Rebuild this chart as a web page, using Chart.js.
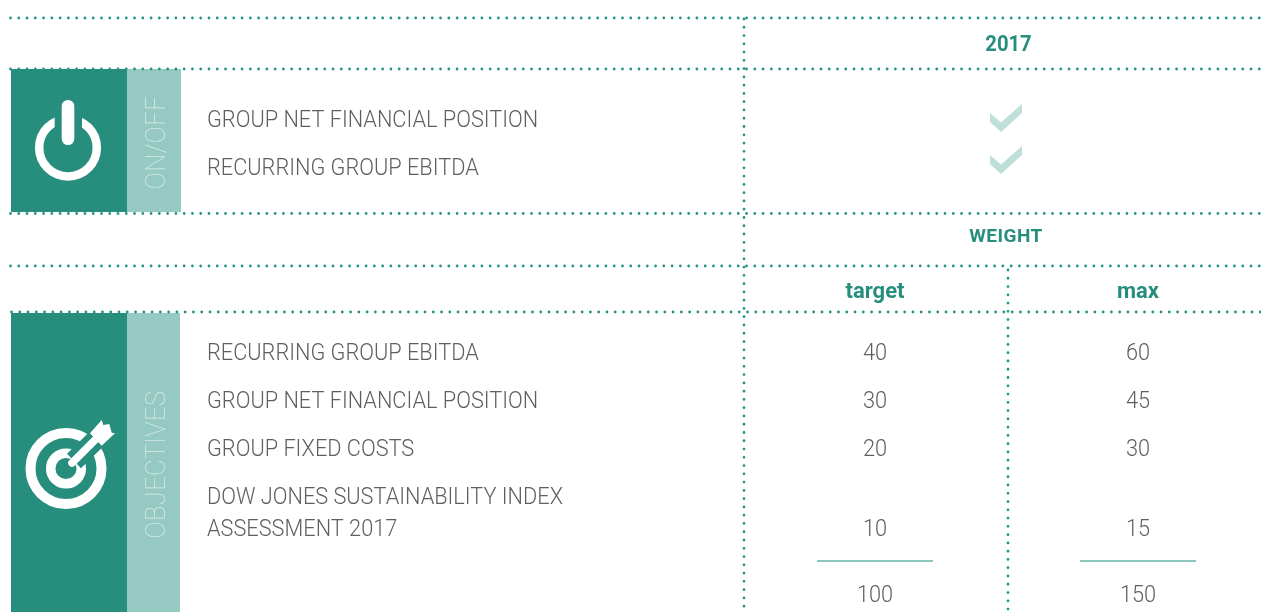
<!DOCTYPE html>
<html>
<head>
<meta charset="utf-8">
<title>Objectives 2017</title>
<script src="https://cdn.jsdelivr.net/npm/chart.js"></script>
<style>
  html, body { margin: 0; padding: 0; background: #fff; overflow: hidden; }
  canvas { display: block; }
</style>
</head>
<body>
<canvas id="chart" width="1261" height="612"></canvas>
<script>
// Table contents
const yearLabel = ['2017'];
const weightLabel = ['WEIGHT'];
const weightColumns = ['target', 'max'];
const sectionNames = ['ON/OFF', 'OBJECTIVES'];
const onOffItems = ['GROUP NET FINANCIAL POSITION', 'RECURRING GROUP EBITDA'];
const onOffChecks = [true, true];
const objectiveItems = ['RECURRING GROUP EBITDA', 'GROUP NET FINANCIAL POSITION', 'GROUP FIXED COSTS', 'DOW JONES SUSTAINABILITY INDEX'];
const objectiveItemsExtra = ['ASSESSMENT 2017'];
const targetWeights = [40, 30, 20, 10];
const maxWeights = [60, 45, 30, 15];
const weightTotals = [100, 150];

// Colors
const TEAL = '#278e7e';
const TEAL_DOT = '#259484';
const TEAL_LIGHT = '#96c9c2';
const TEAL_RULE = '#8cc7bd';
const CHECK = '#bfdfd9';
const GREY = '#5f5f5f';
const PALE = '#d9ece9';

// Layout, in canvas units (the axes run 0-1261 and 0-612)
const COL_LABEL = 207, COL_YEAR = 1006, COL_TARGET = 875, COL_MAX = 1138;
const ONOFF_ROWS = [121, 169];
const CHECK_ROWS = [118, 160];
const OBJECTIVE_ROWS = [354, 402, 450, 530];
const LABEL_ROWS = [354, 402, 450, 498];
const EXTRA_ROW = 530, TOTAL_ROW = 596, RULE_ROW = 561;
const H_LINES = [18, 69, 213.5, 266, 312];
const PANELS = [
  { x: 11, x2: 127, y: 69, y2: 212, color: TEAL },
  { x: 127, x2: 181, y: 69, y2: 212, color: TEAL_LIGHT },
  { x: 11, x2: 127, y: 313, y2: 612, color: TEAL },
  { x: 127, x2: 180, y: 313, y2: 612, color: TEAL_LIGHT }
];

const BODY_FONT = '300 23.5px Roboto';
const BODY_SQUEEZE = 0.925;
const HEAD_FONT = '700 22px Roboto';

// Dotted rules shared by all the table lines
function dotted(points) {
  return {
    type: 'line',
    data: points,
    borderColor: TEAL_DOT,
    borderWidth: 2.8,
    borderDash: [0, 8.27],
    borderCapStyle: 'round',
    pointRadius: 0,
    fill: false
  };
}

function solidRule(x1, x2) {
  return {
    type: 'line',
    data: [{ x: x1, y: RULE_ROW }, { x: x2, y: RULE_ROW }],
    borderColor: TEAL_RULE,
    borderWidth: 2,
    pointRadius: 0
  };
}

// Text column: points carry their string, the plugin below paints it
function textSet(xPos, rows, strings, font, color, align, squeeze, spacing) {
  return {
    type: 'scatter',
    data: strings.map((s, i) => ({ x: xPos, y: rows[i], text: String(s) })),
    pointRadius: 0,
    textFont: font,
    textColor: color,
    textAlign: align,
    textSqueeze: squeeze || 1,
    textSpacing: spacing || '0px'
  };
}

// Check mark used as point style
function makeCheck() {
  const c = document.createElement('canvas');
  c.width = 34;
  c.height = 30;
  const g = c.getContext('2d');
  g.fillStyle = CHECK;
  g.beginPath();
  g.moveTo(1, 10);
  g.lineTo(12, 19.5);
  g.lineTo(33, 1);
  g.lineTo(33, 10);
  g.lineTo(12, 29);
  g.lineTo(1, 19);
  g.closePath();
  g.fill();
  return c;
}

function drawPowerIcon(ctx) {
  ctx.strokeStyle = '#fff';
  ctx.lineWidth = 8.5;
  ctx.beginPath();
  ctx.arc(68, 147.7, 28.8, 0, Math.PI * 2);
  ctx.stroke();
  ctx.fillStyle = TEAL;
  ctx.fillRect(54.7, 108, 27.3, 22);
  ctx.fillStyle = '#fff';
  ctx.beginPath();
  ctx.roundRect(61.7, 100, 12.6, 45, 6.3);
  ctx.fill();
}

function drawTargetIcon(ctx) {
  const cx = 66, cy = 468.5;
  ctx.strokeStyle = '#fff';
  ctx.lineWidth = 10;
  ctx.beginPath();
  ctx.arc(cx, cy, 35.5, 0, Math.PI * 2);
  ctx.stroke();
  ctx.lineWidth = 9.5;
  ctx.beginPath();
  ctx.arc(cx, cy, 15.3, 0, Math.PI * 2);
  ctx.stroke();
  // gap cut through the rings for the arrow
  ctx.strokeStyle = TEAL;
  ctx.lineWidth = 20;
  ctx.beginPath();
  ctx.moveTo(74, 461);
  ctx.lineTo(112, 424);
  ctx.stroke();
  // shaft
  ctx.strokeStyle = '#fff';
  ctx.lineWidth = 7.5;
  ctx.lineCap = 'round';
  ctx.beginPath();
  ctx.moveTo(72, 463);
  ctx.lineTo(96, 439);
  ctx.stroke();
  ctx.fillStyle = '#fff';
  ctx.beginPath();
  [[90, 433.3], [101.7, 420], [103.3, 425], [109.3, 424], [111.7, 432.7], [115, 433.3], [101.7, 445.7]]
    .forEach((p, i) => i ? ctx.lineTo(p[0], p[1]) : ctx.moveTo(p[0], p[1]));
  ctx.closePath();
  ctx.fill();
}

// Paints section panels and icons under the datasets
const panelPlugin = {
  id: 'panels',
  beforeDatasetsDraw(chart) {
    const { ctx, scales: { x, y } } = chart;
    ctx.save();
    PANELS.forEach(p => {
      const left = x.getPixelForValue(p.x);
      const top = y.getPixelForValue(p.y);
      ctx.fillStyle = p.color;
      ctx.fillRect(left, top, x.getPixelForValue(p.x2) - left, y.getPixelForValue(p.y2) - top);
    });
    drawPowerIcon(ctx);
    drawTargetIcon(ctx);
    ctx.restore();

    // vertical section names
    ctx.save();
    ctx.fillStyle = PALE;
    ctx.font = '100 27px Roboto';
    ctx.textAlign = 'center';
    ctx.textBaseline = 'middle';
    ctx.letterSpacing = '0.5px';
    [[sectionNames[0], 142.5], [sectionNames[1], 464.5]].forEach(([name, row]) => {
      ctx.save();
      ctx.translate(x.getPixelForValue(158), y.getPixelForValue(row));
      ctx.rotate(-Math.PI / 2);
      ctx.scale(0.94, 1);
      ctx.fillText(name, 0, 0);
      ctx.restore();
    });
    ctx.restore();
  }
};

// Paints the text carried by the text datasets
const textPlugin = {
  id: 'cellText',
  afterDatasetsDraw(chart) {
    const { ctx, scales: { x, y } } = chart;
    chart.data.datasets.forEach(ds => {
      if (!ds.textFont) return;
      ds.data.forEach(d => {
        ctx.save();
        ctx.font = ds.textFont;
        ctx.fillStyle = ds.textColor;
        ctx.textAlign = ds.textAlign;
        ctx.textBaseline = 'middle';
        ctx.letterSpacing = ds.textSpacing;
        ctx.translate(x.getPixelForValue(d.x), y.getPixelForValue(d.y));
        ctx.scale(ds.textSqueeze, 1);
        ctx.fillText(d.text, 0, 0);
        ctx.restore();
      });
    });
  }
};

const datasets = [
  ...H_LINES.map((row, i) => dotted([{ x: i === 4 ? 11.5 : 10.5, y: row }, { x: 1261, y: row }])),
  dotted([{ x: 744, y: 19 }, { x: 744, y: 612 }]),
  dotted([{ x: 1008, y: 270 }, { x: 1008, y: 612 }]),
  solidRule(817, 933),
  solidRule(1080, 1196),
  {
    type: 'scatter',
    data: onOffChecks.map((on, i) => ({ x: COL_YEAR, y: CHECK_ROWS[i] })),
    pointStyle: makeCheck(),
    pointRadius: 15
  },
  textSet(1008.5, [45], yearLabel, HEAD_FONT, TEAL, 'center', 0.92),
  textSet(COL_YEAR, [237.5], weightLabel, '700 19px Roboto', TEAL, 'center', 1, '0.5px'),
  textSet(COL_TARGET, [292.5], [weightColumns[0]], HEAD_FONT, TEAL, 'center'),
  textSet(COL_MAX, [292.5], [weightColumns[1]], HEAD_FONT, TEAL, 'center'),
  textSet(COL_LABEL, ONOFF_ROWS, onOffItems, BODY_FONT, GREY, 'left', BODY_SQUEEZE),
  textSet(COL_LABEL, LABEL_ROWS, objectiveItems, BODY_FONT, GREY, 'left', BODY_SQUEEZE),
  textSet(COL_LABEL, [EXTRA_ROW], objectiveItemsExtra, BODY_FONT, GREY, 'left', BODY_SQUEEZE),
  textSet(COL_TARGET, OBJECTIVE_ROWS, targetWeights, BODY_FONT, GREY, 'center', BODY_SQUEEZE),
  textSet(COL_MAX, OBJECTIVE_ROWS, maxWeights, BODY_FONT, GREY, 'center', BODY_SQUEEZE),
  textSet(COL_TARGET, [TOTAL_ROW], [weightTotals[0]], BODY_FONT, GREY, 'center', BODY_SQUEEZE),
  textSet(COL_MAX, [TOTAL_ROW], [weightTotals[1]], BODY_FONT, GREY, 'center', BODY_SQUEEZE)
];

new Chart(document.getElementById('chart'), {
  type: 'scatter',
  data: { datasets: datasets },
  options: {
    responsive: false,
    animation: false,
    events: [],
    layout: { padding: 0, autoPadding: false },
    plugins: { legend: { display: false }, tooltip: { enabled: false } },
    scales: {
      x: { type: 'linear', min: 0, max: 1261, display: false },
      y: { type: 'linear', min: 0, max: 612, reverse: true, display: false }
    }
  },
  plugins: [panelPlugin, textPlugin]
});
</script>
</body>
</html>
